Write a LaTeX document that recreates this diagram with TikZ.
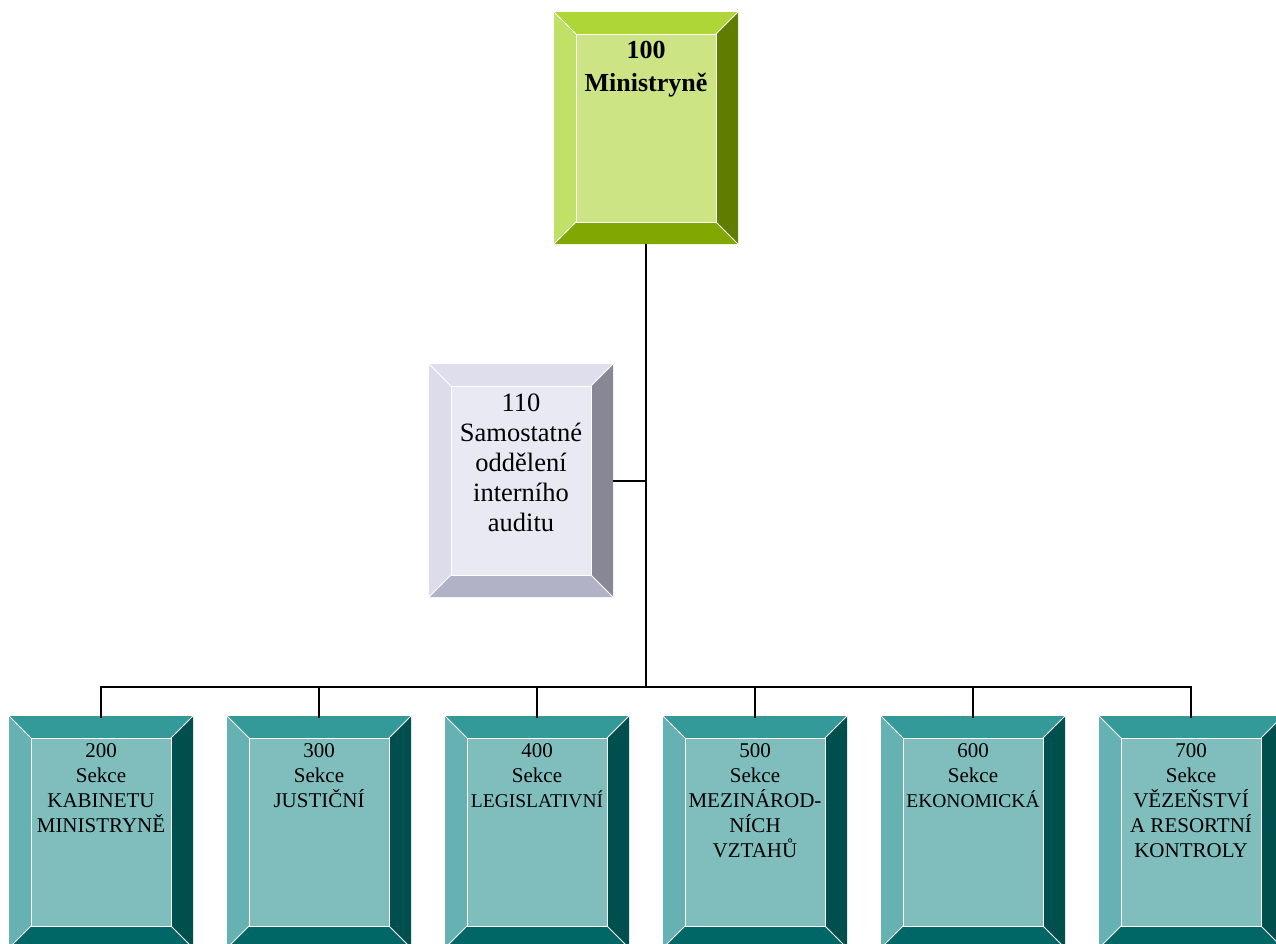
\documentclass[tikz,border=0pt]{standalone}
\usepackage{fontspec}
\setmainfont{Liberation Serif}
\usetikzlibrary{calc}
\definecolor{gTop}{RGB}{173,214,54}
\definecolor{gLeft}{RGB}{192,224,104}
\definecolor{gFace}{RGB}{205,228,133}
\definecolor{gRight}{RGB}{96,125,0}
\definecolor{gBot}{RGB}{128,168,0}
\definecolor{lTop}{RGB}{222,222,237}
\definecolor{lLeft}{RGB}{220,220,235}
\definecolor{lFace}{RGB}{233,233,244}
\definecolor{lRight}{RGB}{135,135,150}
\definecolor{lBot}{RGB}{178,178,198}
\definecolor{tTop}{RGB}{51,153,153}
\definecolor{tLeft}{RGB}{102,178,178}
\definecolor{tFace}{RGB}{128,190,190}
\definecolor{tRight}{RGB}{0,79,79}
\definecolor{tBot}{RGB}{0,102,102}
\newcommand\bevelbox[6]{%
  \fill[#2] (#1.north west) -- (#1.north east) -- ([shift={(-22,22)}]#1.north east) -- ([shift={(22,22)}]#1.north west) -- cycle;
  \fill[#3] (#1.north west) -- (#1.south west) -- ([shift={(22,-22)}]#1.south west) -- ([shift={(22,22)}]#1.north west) -- cycle;
  \fill[#5] (#1.north east) -- (#1.south east) -- ([shift={(-22,-22)}]#1.south east) -- ([shift={(-22,22)}]#1.north east) -- cycle;
  \fill[#6] (#1.south west) -- (#1.south east) -- ([shift={(-22,-22)}]#1.south east) -- ([shift={(22,-22)}]#1.south west) -- cycle;
  \fill[#4] ([shift={(22,22)}]#1.north west) rectangle ([shift={(-22,-22)}]#1.south east);
  \draw[edge] ([shift={(22,22)}]#1.north west) rectangle ([shift={(-22,-22)}]#1.south east);
  \draw[edge] (#1.north west) -- ([shift={(22,22)}]#1.north west);
  \draw[edge] (#1.north east) -- ([shift={(-22,22)}]#1.north east);
  \draw[edge] (#1.south west) -- ([shift={(22,-22)}]#1.south west);
  \draw[edge] (#1.south east) -- ([shift={(-22,-22)}]#1.south east);
}
\begin{document}
\begin{tikzpicture}[x=1pt,y=-1pt,
  outer/.style={minimum width=184pt, minimum height=232pt, inner sep=0pt, outer sep=0pt},
  edge/.style={white, line width=1pt},
  conn/.style={black, line width=2pt},
  lbl/.style={align=center, anchor=north, inner sep=0pt, text=black},
  tsec/.style={lbl, font=\fontsize{21}{25}\selectfont}]
\useasboundingbox (0,0) rectangle (1276,943);
\clip (0,0) rectangle (1276,943);
\fill[white] (0,0) rectangle (1276,943);
% boxes
\node[outer] (b100) at (646,128) {};
\node[outer, minimum height=233pt] (b110) at (521,480.5) {};
\node[outer] (b200) at (101,832) {};
\node[outer] (b300) at (319,832) {};
\node[outer] (b400) at (537,832) {};
\node[outer] (b500) at (755,832) {};
\node[outer] (b600) at (973,832) {};
\node[outer] (b700) at (1191,832) {};
\bevelbox{b100}{gTop}{gLeft}{gFace}{gRight}{gBot}
\bevelbox{b110}{lTop}{lLeft}{lFace}{lRight}{lBot}
\bevelbox{b200}{tTop}{tLeft}{tFace}{tRight}{tBot}
\bevelbox{b300}{tTop}{tLeft}{tFace}{tRight}{tBot}
\bevelbox{b400}{tTop}{tLeft}{tFace}{tRight}{tBot}
\bevelbox{b500}{tTop}{tLeft}{tFace}{tRight}{tBot}
\bevelbox{b600}{tTop}{tLeft}{tFace}{tRight}{tBot}
\bevelbox{b700}{tTop}{tLeft}{tFace}{tRight}{tBot}
% texts
\node[lbl, font=\fontsize{26}{33}\selectfont\bfseries] (t100) at ($(b100.north)+(0,29)$) {100\\Ministryně};
\node[lbl, font=\fontsize{26.5}{30}\selectfont] (t110) at ($(b110.north)+(0,30)$) {110\\Samostatné\\oddělení\\interního\\auditu};
\node[tsec] (t200) at ($(b200.north)+(0,27)$) {200\\Sekce\\KABINETU\\MINISTRYNĚ};
\node[tsec] (t300) at ($(b300.north)+(0,27)$) {300\\Sekce\\JUSTIČNÍ};
\node[tsec] (t400) at ($(b400.north)+(0,27)$) {400\\Sekce\\{\fontsize{19.5}{25}\selectfont LEGISLATIVNÍ}};
\node[tsec] (t500) at ($(b500.north)+(0,27)$) {500\\Sekce\\MEZINÁROD-\\NÍCH\\VZTAHŮ};
\node[tsec] (t600) at ($(b600.north)+(0,27)$) {600\\Sekce\\{\fontsize{19.5}{25}\selectfont EKONOMICKÁ}};
\node[tsec] (t700) at ($(b700.north)+(0,27)$) {700\\Sekce\\VĚZEŇSTVÍ\\A RESORTNÍ\\KONTROLY};
% connectors
\coordinate (bar) at (646,687);
\draw[conn] (b100.south) -- (bar);
\draw[conn] (b110.east) -- (b100.south |- b110.east);
\draw[conn] ([xshift=-1pt]b200.north |- bar) -- ([xshift=1pt]b700.north |- bar);
\foreach \n in {200,300,400,500,600,700}
  \draw[conn] (b\n.north |- bar) -- ([yshift=-2pt]b\n.north);
\end{tikzpicture}
\end{document}
